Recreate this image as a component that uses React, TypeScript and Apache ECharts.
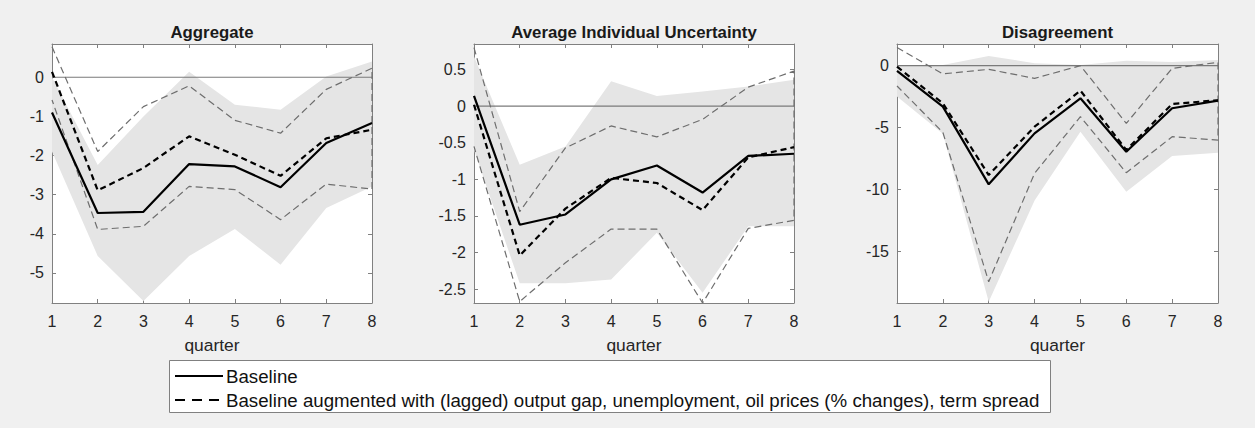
import React, { useEffect, useRef } from "react";
import * as echarts from "echarts";

const quarters = [1, 2, 3, 4, 5, 6, 7, 8];

const titles = ["Aggregate", "Average Individual Uncertainty", "Disagreement"];
const xAxisName = "quarter";
const legendNames = [
  "Baseline",
  "Baseline augmented with (lagged) output gap, unemployment, oil prices (% changes), term spread",
];

// Aggregate
const aggBase = [-0.9, -3.47, -3.44, -2.22, -2.28, -2.81, -1.68, -1.17];
const aggAug = [0.14, -2.89, -2.32, -1.51, -1.98, -2.52, -1.56, -1.34];
const aggAugUp = [0.78, -1.9, -0.75, -0.22, -1.1, -1.43, -0.31, 0.23];
const aggAugLo = [-0.58, -3.89, -3.81, -2.79, -2.87, -3.64, -2.73, -2.86];
const aggBandUp = [0.0, -2.24, -1.0, 0.14, -0.7, -0.83, 0.02, 0.4];
const aggBandLo = [-1.9, -4.57, -5.72, -4.57, -3.88, -4.79, -3.34, -2.79];

// Average Individual Uncertainty
const aiuBase = [0.14, -1.62, -1.48, -1.0, -0.81, -1.18, -0.68, -0.65];
const aiuAug = [0.02, -2.04, -1.4, -0.98, -1.05, -1.42, -0.7, -0.56];
const aiuAugUp = [0.8, -1.44, -0.57, -0.27, -0.42, -0.18, 0.26, 0.48];
const aiuAugLo = [-0.55, -2.67, -2.14, -1.68, -1.68, -2.69, -1.67, -1.56];
const aiuBandUp = [0.68, -0.8, -0.55, 0.34, 0.14, 0.2, 0.27, 0.36];
const aiuBandLo = [-0.6, -2.42, -2.42, -2.37, -1.73, -2.55, -1.64, -1.64];

// Disagreement
const disBase = [-0.43, -3.32, -9.6, -5.48, -2.64, -6.96, -3.45, -2.83];
const disAug = [-0.08, -3.05, -8.85, -4.94, -2.02, -6.82, -3.1, -2.8];
const disAugUp = [1.46, -0.67, -0.3, -1.03, 0.0, -4.67, -0.22, 0.27];
const disAugLo = [-1.65, -5.4, -17.48, -8.71, -4.13, -8.66, -5.75, -6.02];
const disBandUp = [0.0, 0.05, 0.78, 0.2, 0.05, 0.4, 0.3, 0.45];
const disBandLo = [-2.5, -5.5, -19.1, -10.9, -5.35, -10.2, -7.3, -7.05];

const yTicks1 = [-5, -4, -3, -2, -1, 0];
const yTicks2 = [-2.5, -2, -1.5, -1, -0.5, 0, 0.5];
const yTicks3 = [-15, -10, -5, 0];
const yRanges = [
  [-5.77, 0.85],
  [-2.69, 0.85],
  [-19.2, 1.75],
];

const panels = [
  { base: aggBase, aug: aggAug, augUp: aggAugUp, augLo: aggAugLo, bandUp: aggBandUp, bandLo: aggBandLo, ticks: yTicks1 },
  { base: aiuBase, aug: aiuAug, augUp: aiuAugUp, augLo: aiuAugLo, bandUp: aiuBandUp, bandLo: aiuBandLo, ticks: yTicks2 },
  { base: disBase, aug: disAug, augUp: disAugUp, augLo: disAugLo, bandUp: disBandUp, bandLo: disBandLo, ticks: yTicks3 },
];

const FONT = "'Liberation Sans', Arial, sans-serif";
const grids = [
  { left: 52, top: 44, width: 320, height: 259 },
  { left: 474, top: 44, width: 320, height: 259 },
  { left: 897, top: 44, width: 321, height: 259 },
];

export default function App() {
  const ref = useRef<HTMLDivElement>(null);
  useEffect(() => {
    if (!ref.current) return;
    const chart = echarts.init(ref.current, null, { renderer: "svg" });
    const axisColor = "#808080";
    const labelColor = "#262626";
    const xAxes: any[] = [];
    const yAxes: any[] = [];
    const series: any[] = [];
    panels.forEach((p, g) => {
      const tickCommon = { show: true, inside: true, length: 4, lineStyle: { color: axisColor } };
      xAxes.push({
        type: "value", gridIndex: g, min: 1, max: 8, position: "bottom",
        axisLine: { show: true, onZero: false, lineStyle: { color: axisColor } },
        axisTick: { ...tickCommon, customValues: quarters },
        axisLabel: { customValues: quarters, color: labelColor, fontSize: 16, fontFamily: FONT, margin: 10 },
        splitLine: { show: false },
      });
      xAxes.push({
        type: "value", gridIndex: g, min: 1, max: 8, position: "top",
        axisLine: { show: true, onZero: false, lineStyle: { color: axisColor } },
        axisTick: { ...tickCommon, customValues: quarters },
        axisLabel: { show: false },
        splitLine: { show: false },
      });
      yAxes.push({
        type: "value", gridIndex: g, min: yRanges[g][0], max: yRanges[g][1], position: "left",
        axisLine: { show: true, onZero: false, lineStyle: { color: axisColor } },
        axisTick: { ...tickCommon, customValues: p.ticks },
        axisLabel: { customValues: p.ticks, color: labelColor, fontSize: 16, fontFamily: FONT, margin: 8 },
        splitLine: { show: false },
      });
      yAxes.push({
        type: "value", gridIndex: g, min: yRanges[g][0], max: yRanges[g][1], position: "right",
        axisLine: { show: true, onZero: false, lineStyle: { color: axisColor } },
        axisTick: { ...tickCommon, customValues: p.ticks },
        axisLabel: { show: false },
        splitLine: { show: false },
      });
      const xi = g * 2;
      const yi = g * 2;
      series.push({
        type: "custom", xAxisIndex: xi, yAxisIndex: yi, silent: true, clip: true, z: 1,
        data: [[1, 0]],
        renderItem: (params: any, api: any) => {
          const pts: number[][] = [];
          quarters.forEach((q, i) => pts.push(api.coord([q, p.bandUp[i]])));
          for (let i = quarters.length - 1; i >= 0; i--) pts.push(api.coord([quarters[i], p.bandLo[i]]));
          return { type: "polygon", shape: { points: pts }, style: { fill: "#e5e5e5", stroke: "none" } };
        },
      });
      series.push({
        type: "line", xAxisIndex: xi, yAxisIndex: yi, silent: true, z: 2, showSymbol: false,
        data: [[1, 0], [8, 0]],
        lineStyle: { color: "#7a7a7a", width: 1.2 },
      });
      const bandPts: number[][] = [];
      quarters.forEach((q, i) => bandPts.push([q, p.augUp[i]]));
      for (let i = quarters.length - 1; i >= 0; i--) bandPts.push([quarters[i], p.augLo[i]]);
      series.push({
        type: "line", xAxisIndex: xi, yAxisIndex: yi, silent: true, z: 3, showSymbol: false,
        data: bandPts,
        lineStyle: { color: "#6e6e6e", width: 1.2, type: [7, 4] },
      });
      series.push({
        name: legendNames[1], type: "line", xAxisIndex: xi, yAxisIndex: yi, z: 4, showSymbol: false, symbol: "none",
        data: quarters.map((q, i) => [q, p.aug[i]]),
        lineStyle: { color: "#000000", width: 2.2, type: [6, 4] },
        itemStyle: { color: "#000000" },
      });
      series.push({
        name: legendNames[0], type: "line", xAxisIndex: xi, yAxisIndex: yi, z: 5, showSymbol: false, symbol: "none",
        data: quarters.map((q, i) => [q, p.base[i]]),
        lineStyle: { color: "#000000", width: 2.2 },
        itemStyle: { color: "#000000" },
      });
    });

    chart.setOption({
      animation: false,
      backgroundColor: "#f0f0f0",
      title: titles.map((t, g) => ({
        text: t,
        left: grids[g].left + grids[g].width / 2,
        top: 24,
        padding: 0,
        textAlign: "center",
        textStyle: { fontSize: 16.8, fontWeight: "bold", color: "#1a1a1a", fontFamily: FONT },
      })),
      grid: grids.map((g) => ({ ...g, show: true, backgroundColor: "#ffffff", borderWidth: 0 })),
      xAxis: xAxes,
      yAxis: yAxes,
      legend: {
        data: [
          { name: legendNames[0] },
          { name: legendNames[1], lineStyle: { type: [10, 7], width: 2 } },
        ],
        orient: "vertical",
        left: 174,
        top: 366,
        itemGap: 4,
        itemWidth: 48,
        itemHeight: 14,
        padding: 0,
        itemStyle: { opacity: 0 },
        textStyle: { fontSize: 18.7, lineHeight: 20, color: "#111111", fontFamily: FONT, padding: [0, 0, 0, -2] },
        selectedMode: false,
      },
      graphic: [
        {
          type: "rect", z: -1, shape: { x: 169.5, y: 360.5, width: 881, height: 52 },
          style: { fill: "#ffffff", stroke: "#808080", lineWidth: 1 },
        },
        ...grids.map((g) => ({
          type: "text", x: g.left + g.width / 2, y: 345,
          style: { text: xAxisName, fontSize: 17.4, fill: "#262626", fontFamily: FONT, align: "center", verticalAlign: "middle" },
        })),
      ],
      series,
    });
    return () => chart.dispose();
  }, []);
  return <div ref={ref} style={{ position: "fixed", left: 0, top: 0, width: 1255, height: 428 }} />;
}
